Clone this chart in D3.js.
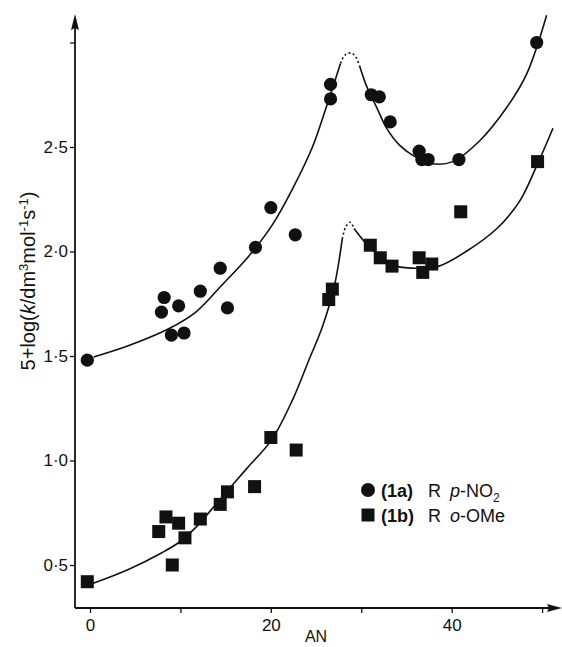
<!DOCTYPE html>
<html>
<head>
<meta charset="utf-8">
<script src="https://cdn.jsdelivr.net/npm/d3@7"></script>
<style>
  body { margin: 0; background: #fff; }
  svg text { font-family: "Liberation Sans", Arial, sans-serif; fill: #111; }
</style>
</head>
<body>
<div id="chart"></div>
<script>
// measured points, series (1a) R p-NO2
const anA = [-0.3, 7.9, 8.2, 9.0, 9.8, 10.4, 12.2, 14.4, 15.2, 18.3, 20.0, 22.7,
             26.6, 26.6, 31.1, 32.0, 33.2, 36.4, 36.7, 37.4, 40.8, 49.4];
const logA = [1.48, 1.71, 1.78, 1.60, 1.74, 1.61, 1.81, 1.92, 1.73, 2.02, 2.21, 2.08,
              2.80, 2.73, 2.75, 2.74, 2.62, 2.48, 2.44, 2.44, 2.44, 3.00];

// measured points, series (1b) R o-OMe
const anB = [-0.3, 7.6, 8.4, 9.1, 9.8, 10.5, 12.2, 14.4, 15.2, 18.2, 20.0, 22.8,
             26.4, 26.8, 31.0, 32.1, 33.4, 36.4, 36.8, 37.8, 41.0, 49.5];
const logB = [0.42, 0.66, 0.73, 0.50, 0.70, 0.63, 0.72, 0.79, 0.85, 0.875, 1.11, 1.05,
              1.77, 1.82, 2.03, 1.97, 1.93, 1.97, 1.90, 1.94, 2.19, 2.43];

// hand drawn trend lines: solid, dotted peak, solid
const curveA1 = [[0.4, 1.495], [4.3, 1.55], [8.7, 1.63], [11.7, 1.71], [14.6, 1.84], [17.6, 1.98],
                 [20.2, 2.13], [22.4, 2.30], [24.6, 2.50], [26.2, 2.70], [27.7, 2.90]];
const curveA2 = [[27.7, 2.90], [28.2, 2.94], [28.9, 2.95], [29.4, 2.93], [29.8, 2.89]];
const curveA3 = [[29.8, 2.89], [30.6, 2.79], [31.7, 2.69], [32.8, 2.59], [34.2, 2.51], [35.7, 2.46],
                 [37.9, 2.42], [40.1, 2.43], [43.1, 2.53], [46.1, 2.69], [48.3, 2.85], [50.5, 3.13]];

const curveB1 = [[0.2, 0.41], [4.3, 0.48], [8.0, 0.56], [9.9, 0.61], [11.7, 0.68], [14.3, 0.81],
                 [17.3, 0.96], [20.1, 1.10], [22.4, 1.29], [24.2, 1.48], [25.7, 1.64], [27.0, 1.83], [27.9, 2.06]];
const curveB2 = [[27.9, 2.06], [28.3, 2.12], [28.8, 2.14], [29.2, 2.11]];
const curveB3 = [[29.2, 2.11], [30.5, 2.04], [32.0, 1.98], [33.9, 1.93], [36.4, 1.92], [38.6, 1.93],
                 [41.6, 2.00], [45.0, 2.11], [47.5, 2.24], [49.4, 2.41], [51.2, 2.59]];

const xTicks = [0, 10, 20, 30, 40, 50];
const xTickLabels = ['0', '', '20', '', '40', ''];
const yTicks = [0.5, 1.0, 1.5, 2.0, 2.5, 3.0];
const yTickLabels = ['0·5', '1·0', '1·5', '2·0', '2·5', ''];

const width = 562, height = 647;
const left = 75, bottom = 608;

const svg = d3.select('#chart').append('svg')
    .attr('width', width)
    .attr('height', height);

const x = d3.scaleLinear().domain([-1.66, 52.2]).range([left, 562]);
const y = d3.scaleLinear().domain([0.5, 2.5]).range([565, 147]);

// axes
const xAxis = d3.axisBottom(x)
    .tickValues(xTicks)
    .tickSize(5)
    .tickPadding(6)
    .tickFormat((d, i) => xTickLabels[i]);

const yAxis = d3.axisLeft(y)
    .tickValues(yTicks)
    .tickSize(5)
    .tickPadding(2)
    .tickFormat((d, i) => yTickLabels[i]);

const gx = svg.append('g')
    .attr('transform', `translate(0,${bottom})`)
    .call(xAxis);
const gy = svg.append('g')
    .attr('transform', `translate(${left},0)`)
    .call(yAxis);

[gx, gy].forEach(g => {
  g.select('.domain').remove();
  g.selectAll('.tick line').attr('stroke', '#111').attr('stroke-width', 1.3);
  g.selectAll('.tick text').attr('font-size', 17).attr('fill', '#111')
      .style('font-family', '"Liberation Sans", Arial, sans-serif');
});

// axis lines with arrow heads
svg.append('line')
    .attr('x1', left).attr('x2', 550)
    .attr('y1', bottom).attr('y2', bottom)
    .attr('stroke', '#111').attr('stroke-width', 1.8);
svg.append('path')
    .attr('d', `M562,${bottom} L547,${bottom - 4} L549,${bottom} L547,${bottom + 4} Z`)
    .attr('fill', '#111');

svg.append('line')
    .attr('x1', left).attr('x2', left)
    .attr('y1', bottom).attr('y2', 26)
    .attr('stroke', '#111').attr('stroke-width', 1.8);
svg.append('path')
    .attr('d', `M${left},14 L${left - 4},30 L${left},28 L${left + 4},30 Z`)
    .attr('fill', '#111');

// axis titles
svg.append('text')
    .attr('x', 316).attr('y', 642)
    .attr('text-anchor', 'middle')
    .attr('font-size', 16)
    .text('AN');

const yTitle = svg.append('text')
    .attr('transform', 'translate(35,281) rotate(-90)')
    .attr('text-anchor', 'middle')
    .attr('font-size', 20);
yTitle.append('tspan').text('5+log(');
yTitle.append('tspan').attr('font-style', 'italic').text('k');
yTitle.append('tspan').text('/dm');
yTitle.append('tspan').attr('font-size', 13).attr('dy', -7).text('3');
yTitle.append('tspan').attr('dy', 7).text('mol');
yTitle.append('tspan').attr('font-size', 13).attr('dy', -7).text('-1');
yTitle.append('tspan').attr('dy', 7).text('s');
yTitle.append('tspan').attr('font-size', 13).attr('dy', -7).text('-1');
yTitle.append('tspan').attr('dy', 7).text(')');

// trend lines
const line = d3.line()
    .x(d => x(d[0]))
    .y(d => y(d[1]))
    .curve(d3.curveCatmullRom.alpha(0.5));

const curves = [
  {pts: curveA1, dash: null}, {pts: curveA2, dash: '2,2.5'}, {pts: curveA3, dash: null},
  {pts: curveB1, dash: null}, {pts: curveB2, dash: '2,2.5'}, {pts: curveB3, dash: null}
];

svg.selectAll('.trend')
    .data(curves)
  .join('path')
    .attr('class', 'trend')
    .attr('d', d => line(d.pts))
    .attr('fill', 'none')
    .attr('stroke', '#111')
    .attr('stroke-width', 1.6)
    .attr('stroke-dasharray', d => d.dash);

// points
const ptsA = anA.map((a, i) => ({an: a, v: logA[i]}));
const ptsB = anB.map((a, i) => ({an: a, v: logB[i]}));

svg.selectAll('.pa')
    .data(ptsA)
  .join('circle')
    .attr('class', 'pa')
    .attr('cx', d => x(d.an))
    .attr('cy', d => y(d.v))
    .attr('r', 6.6)
    .attr('fill', '#111');

const sq = 13;
svg.selectAll('.pb')
    .data(ptsB)
  .join('rect')
    .attr('class', 'pb')
    .attr('x', d => x(d.an) - sq / 2)
    .attr('y', d => y(d.v) - sq / 2)
    .attr('width', sq)
    .attr('height', sq)
    .attr('fill', '#111');

// legend
const legend = svg.append('g').attr('transform', 'translate(368,490)');
legend.append('circle').attr('r', 7).attr('fill', '#111');
legend.append('rect')
    .attr('x', -sq / 2).attr('y', 25 - sq / 2)
    .attr('width', sq).attr('height', sq)
    .attr('fill', '#111');

const l1 = legend.append('text').attr('y', 7).attr('font-size', 18);
l1.append('tspan').attr('x', 13).attr('font-weight', 'bold').text('(1a)');
l1.append('tspan').attr('x', 60).text('R');
l1.append('tspan').attr('x', 82).attr('font-style', 'italic').text('p');
l1.append('tspan').text('-NO');
l1.append('tspan').attr('font-size', 12).attr('dy', 5).text('2');

const l2 = legend.append('text').attr('y', 32).attr('font-size', 18);
l2.append('tspan').attr('x', 13).attr('font-weight', 'bold').text('(1b)');
l2.append('tspan').attr('x', 60).text('R');
l2.append('tspan').attr('x', 82).attr('font-style', 'italic').text('o');
l2.append('tspan').text('-OMe');
</script>
</body>
</html>
